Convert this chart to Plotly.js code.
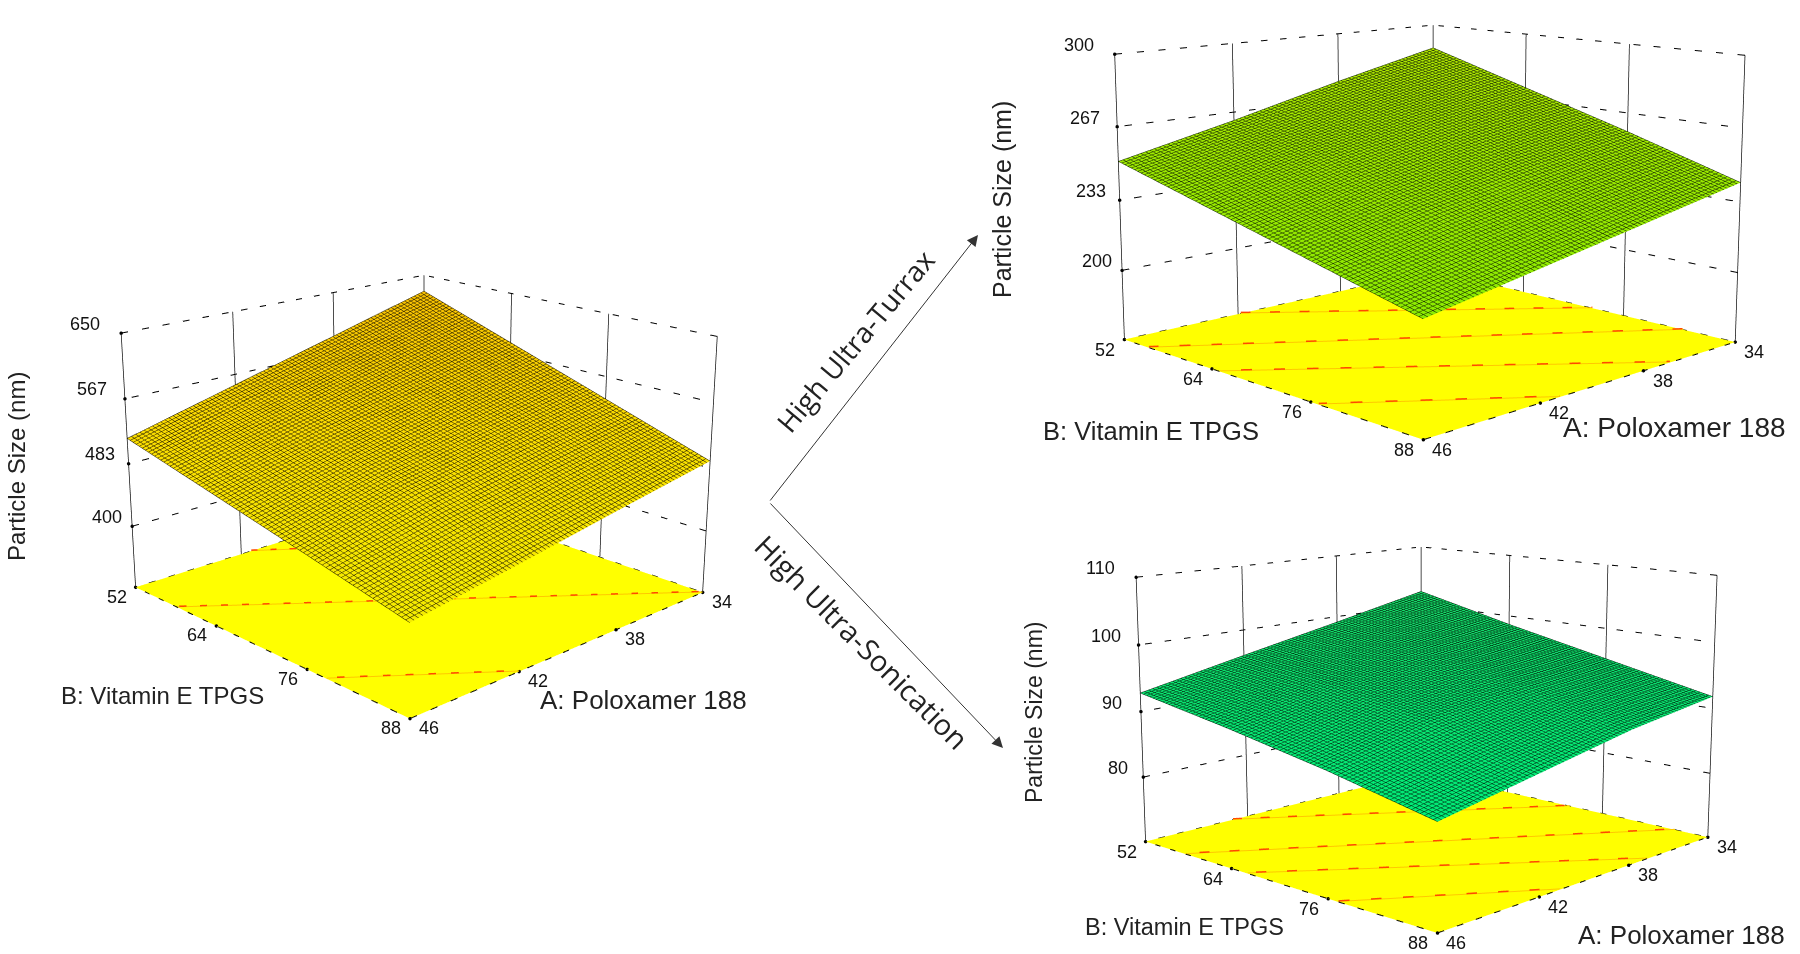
<!DOCTYPE html>
<html>
<head>
<meta charset="utf-8">
<script src="https://cdn.plot.ly/plotly-3.0.1.min.js"></script>
<style>
  html, body { margin: 0; width: 1800px; height: 954px; overflow: hidden; background: #fff; }
  #chart { position: absolute; left: 0; top: -600px; }
</style>
</head>
<body>
<div id="chart"></div>
<script>
// Factor levels shared by the three response surfaces
const poloxamerTicks = [34, 38, 42, 46];
const tpgsTicks = [52, 64, 76, 88];

// Particle size axes
const leftSizeTicks = [400, 483, 567, 650];
const turraxSizeTicks = [200, 233, 267, 300];
const sonicationSizeTicks = [80, 90, 100, 110];
const leftSizeFloor = 317;
const turraxSizeFloor = 167;
const sonicationSizeFloor = 70;

// Surfaces: one row per TPGS level, one column per poloxamer level
const leftSurface = [
  [627, 590, 553, 516],
  [582, 552, 521, 487],
  [537, 514, 490, 458],
  [492, 471, 449, 428],
];
const turraxSurface = [
  [288, 276, 263, 251],
  [273, 263, 252, 239],
  [258, 249, 239, 227],
  [242, 233, 224, 215],
];
const sonicationSurface = [
  [102.3, 99.1, 96, 92.8],
  [98.6, 96.3, 93.8, 90.4],
  [95.2, 93.5, 91.2, 87.7],
  [91.8, 89.9, 87.2, 84.5],
];

// Contours projected on the floor, as [A, B] end points
const leftContours = [
  [[41.6, 52], [34, 69.8]],
  [[46, 58.4], [34, 88]],
  [[46, 78.4], [42, 88]],
];
const turraxContours = [
  [[41.9, 52], [34, 72.4]],
  [[46, 55.5], [34, 82.6]],
  [[46, 65], [36.9, 88]],
  [[46, 76.9], [41.3, 88]],
];
const sonicationContours = [
  [[42.6, 52], [34, 72]],
  [[46, 57.8], [34, 84.4]],
  [[46, 66.1], [37.1, 88]],
  [[46, 77.2], [41.1, 88]],
];

const axisTitleA = "A: Poloxamer 188";
const axisTitleB = "B: Vitamin E TPGS";
const axisTitleZ = "Particle Size (nm)";
const armTurrax = "High Ultra-Turrax";
const armSonication = "High Ultra-Sonication";

// The scenes need a taller viewport than the window to keep the flat perspective
const figW = 1800;
const figH = 2000;
const figTop = 600;
const px = (x) => x / figW;
const py = (y) => 1 - (y + figTop) / figH;

const aMin = poloxamerTicks[0];
const aMax = poloxamerTicks[poloxamerTicks.length - 1];
const bMin = tpgsTicks[0];
const bMax = tpgsTicks[tpgsTicks.length - 1];

// Marks sitting exactly on the range limits get clipped, so pad the ranges a little
const padded = (lo, hi) => [lo - (hi - lo) * 0.004, hi + (hi - lo) * 0.004];

// Turn a list of segments into one trace, split with nulls
function lineTrace(scene, segments, color, dash, width) {
  const x = [], y = [], z = [];
  segments.forEach((seg) => {
    seg.forEach((p) => { x.push(p[0]); y.push(p[1]); z.push(p[2]); });
    x.push(null); y.push(null); z.push(null);
  });
  return {
    type: "scatter3d", mode: "lines", scene, x, y, z,
    line: { color, dash, width }, hoverinfo: "skip", showlegend: false,
  };
}

function buildScene(name, cfg) {
  const { surface, sizeTicks, floor, contours, colorscale } = cfg;
  const top = sizeTicks[sizeTicks.length - 1];
  const traces = [];

  // yellow floor
  traces.push({
    type: "surface", scene: name, showscale: false, hoverinfo: "skip",
    x: [aMin, aMax], y: [bMin, bMax], z: [[floor, floor], [floor, floor]],
    colorscale: [[0, "#ffff00"], [1, "#ffff00"]], cmin: 0, cmax: 1, surfacecolor: [[0, 0], [0, 0]],
    lighting: { ambient: 1, diffuse: 0, specular: 0, roughness: 1, fresnel: 0 },
  });

  // response surface with its fine mesh
  traces.push({
    type: "surface", scene: name, showscale: false, hoverinfo: "skip",
    x: poloxamerTicks, y: tpgsTicks, z: surface, colorscale,
    lighting: { ambient: 1, diffuse: 0, specular: 0, roughness: 1, fresnel: 0 },
    contours: {
      x: { show: true, start: aMin, end: aMax, size: (aMax - aMin) / cfg.mesh, color: cfg.meshColor, width: 1 },
      y: { show: true, start: bMin, end: bMax, size: (bMax - bMin) / cfg.mesh, color: cfg.meshColor, width: 1 },
    },
  });

  // back walls and floor outline
  const hLines = sizeTicks.map((z) => [[aMax, bMin, z], [aMin, bMin, z], [aMin, bMax, z]]);
  const floorEdge = [[[aMax, bMin, floor], [aMin, bMin, floor], [aMin, bMax, floor], [aMax, bMax, floor], [aMax, bMin, floor]]];
  traces.push(lineTrace(name, hLines.concat(floorEdge), "#000000", "dot", 2));
  const vLines = poloxamerTicks.map((a) => [[a, bMin, floor], [a, bMin, top]])
    .concat(tpgsTicks.slice(1).map((b) => [[aMin, b, floor], [aMin, b, top]]));
  traces.push(lineTrace(name, vLines, "#111111", "solid", 1.5));

  // contours on the floor: a pale orange line with red dashes over it
  const cSegs = contours.map((c) => c.map((p) => [p[0], p[1], floor + (top - floor) * 0.002]));
  traces.push(lineTrace(name, cSegs, "#ffc800", "solid", 2));
  const cSegsTop = contours.map((c) => c.map((p) => [p[0], p[1], floor + (top - floor) * 0.004]));
  traces.push(lineTrace(name, cSegsTop, "#ff4a00", "dash", 3));

  // tick dots
  const dots = {
    x: [], y: [], z: [],
  };
  sizeTicks.forEach((z) => { dots.x.push(aMax); dots.y.push(bMin); dots.z.push(z); });
  poloxamerTicks.forEach((a) => { dots.x.push(a); dots.y.push(bMax); dots.z.push(floor); });
  tpgsTicks.forEach((b) => { dots.x.push(aMax); dots.y.push(b); dots.z.push(floor); });
  traces.push({
    type: "scatter3d", mode: "markers", scene: name, x: dots.x, y: dots.y, z: dots.z,
    marker: { color: "#000", size: 2 }, hoverinfo: "skip", showlegend: false,
  });

  const tickFont = { family: "Liberation Sans", size: cfg.tickSize, color: "#111" };
  const annotations = [];
  sizeTicks.forEach((z) => annotations.push({
    x: aMax, y: bMin, z, text: String(z), showarrow: false, font: tickFont,
    xshift: -22 - 14 * (z - floor) / (top - floor), yshift: 9,
  }));
  poloxamerTicks.forEach((a) => annotations.push({
    x: a, y: bMax, z: floor, text: String(a), showarrow: false, font: tickFont, xshift: 19, yshift: -10,
  }));
  tpgsTicks.forEach((b) => annotations.push({
    x: aMax, y: b, z: floor, text: String(b), showarrow: false, font: tickFont, xshift: -19, yshift: -10,
  }));

  const hideAxis = { visible: false };
  const c = cfg.box;
  return {
    traces,
    scene: {
      domain: {
        x: [px(c.cx - c.w / 2), px(c.cx + c.w / 2)],
        y: [py(c.cy + c.h / 2), py(c.cy - c.h / 2)],
      },
      bgcolor: "rgba(0,0,0,0)",
      aspectmode: "manual",
      aspectratio: { x: 1, y: 1, z: c.zr },
      camera: {
        eye: { x: c.ex, y: c.ey, z: c.ez },
        center: { x: 0, y: 0, z: 0 },
        up: { x: 0, y: 0, z: 1 },
      },
      xaxis: Object.assign({ range: padded(aMin, aMax) }, hideAxis),
      yaxis: Object.assign({ range: padded(bMin, bMax) }, hideAxis),
      zaxis: Object.assign({ range: padded(floor, top) }, hideAxis),
      annotations,
    },
  };
}

const golds = [[0, "#f4ec00"], [0.5, "#fcdc00"], [1, "#f8c000"]];
const limes = [[0, "#8cec00"], [1, "#b0e400"]];
const greens = [[0, "#00ec78"], [1, "#18dc68"]];

const left = buildScene("scene", {
  surface: leftSurface, sizeTicks: leftSizeTicks, floor: leftSizeFloor, contours: leftContours,
  colorscale: golds, mesh: 80, meshColor: "#221a00", tickSize: 18,
  box: { cx: 418, cy: 465, w: 836, h: 1373, zr: 0.652, ex: 2.625, ey: 2.753, ez: 1.236 },
});
const turrax = buildScene("scene2", {
  surface: turraxSurface, sizeTicks: turraxSizeTicks, floor: turraxSizeFloor, contours: turraxContours,
  colorscale: limes, mesh: 80, meshColor: "#142800", tickSize: 18,
  box: { cx: 1429, cy: 200, w: 742, h: 1466, zr: 0.664, ex: 2.734, ey: 2.82, ez: 0.764 },
});
const sonication = buildScene("scene3", {
  surface: sonicationSurface, sizeTicks: sonicationSizeTicks, floor: sonicationSizeFloor, contours: sonicationContours,
  colorscale: greens, mesh: 80, meshColor: "#002a10", tickSize: 18,
  box: { cx: 1428, cy: 710, w: 744, h: 1350, zr: 0.664, ex: 2.848, ey: 2.693, ez: 0.796 },
});

function paperText(text, x, y, angle, size, family) {
  return {
    xref: "paper", yref: "paper", x: px(x), y: py(y), text, showarrow: false, textangle: angle,
    font: { family: family || "Liberation Sans", size, color: "#222" }, xanchor: "center", yanchor: "middle",
  };
}
function arrow(fromX, fromY, toX, toY) {
  return {
    xref: "paper", yref: "paper", x: px(toX), y: py(toY), ax: fromX - toX, ay: fromY - toY,
    axref: "pixel", ayref: "pixel", text: "", showarrow: true,
    arrowhead: 2, arrowsize: 2.2, arrowwidth: 1, arrowcolor: "#333",
  };
}

const layout = {
  width: figW,
  height: figH,
  margin: { l: 0, r: 0, t: 0, b: 0 },
  paper_bgcolor: "#fff",
  showlegend: false,
  scene: left.scene,
  scene2: turrax.scene,
  scene3: sonication.scene,
  annotations: [
    paperText(axisTitleZ, 16, 467, -90, 24),
    paperText(axisTitleB, 162, 695, 0, 24),
    paperText(axisTitleA, 643, 700, 0, 26),
    paperText(axisTitleZ, 1002, 200, -90, 25),
    paperText(axisTitleB, 1151, 431, 0, 25.5),
    paperText(axisTitleA, 1674, 427, 0, 28),
    paperText(axisTitleZ, 1034, 713, -90, 23),
    paperText(axisTitleB, 1184, 927, 0, 23.5),
    paperText(axisTitleA, 1681, 935, 0, 26),
    arrow(769, 502, 978, 235),
    arrow(769, 502, 1003, 748),
    paperText(armTurrax, 855, 341, -50, 28, "Open Sans"),
    paperText(armSonication, 862, 641, 45, 29, "Open Sans"),
  ],
};

Plotly.newPlot(
  "chart",
  left.traces.concat(turrax.traces, sonication.traces),
  layout,
  { displayModeBar: false },
);
</script>
</body>
</html>
